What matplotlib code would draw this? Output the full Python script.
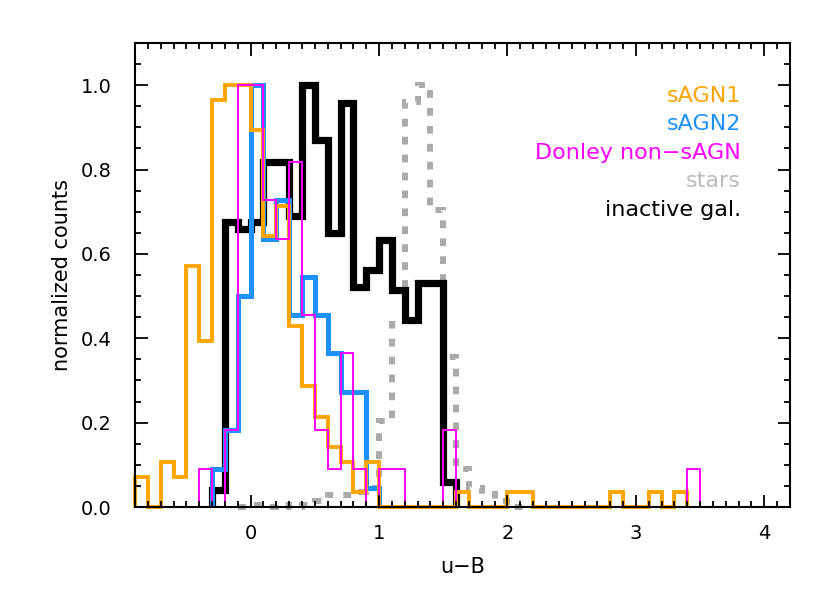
import numpy as np
import matplotlib
matplotlib.use("Agg")
import matplotlib.pyplot as plt
from matplotlib.ticker import MultipleLocator

# bin width of all the histograms (u-B)
bin_w = 0.1

# sAGN1: bins starting at -0.9
sagn1_start = -0.9
sagn1 = [0.071, 0.0, 0.107, 0.071, 0.571, 0.393, 0.964, 1.0, 1.0, 0.893,
         0.643, 0.714, 0.429, 0.286, 0.214, 0.143, 0.107, 0.036, 0.107,
         0.0, 0.0, 0.0, 0.0, 0.0, 0.0, 0.036, 0.0, 0.0, 0.0,
         0.036, 0.036, 0.0, 0.0, 0.0, 0.0, 0.0, 0.0, 0.036, 0.0, 0.0,
         0.036, 0.0, 0.036]

# sAGN2: bins starting at -0.3
sagn2_start = -0.3
sagn2 = [0.091, 0.182, 0.5, 1.0, 0.636, 0.727, 0.455, 0.545, 0.455, 0.364,
         0.273, 0.273, 0.045]

# Donley non-sAGN: bins starting at -0.5
donley_start = -0.5
donley = [0.0, 0.091, 0.0, 0.182, 1.0, 1.0, 0.727, 0.636, 0.818, 0.455,
          0.182, 0.091, 0.364, 0.091, 0.0, 0.091, 0.091, 0.0, 0.0, 0.0,
          0.182, 0.0, 0.0, 0.0, 0.0, 0.0, 0.0, 0.0, 0.0, 0.0,
          0.0, 0.0, 0.0, 0.0, 0.0, 0.0, 0.0, 0.0, 0.0, 0.091]

# stars: bins starting at -0.1
stars_start = -0.1
stars = [0.0, 0.005, 0.0, 0.005, 0.0, 0.005, 0.015, 0.028, 0.028, 0.035,
         0.045, 0.205, 0.435, 0.96, 1.0, 0.705, 0.355, 0.09, 0.045, 0.03,
         0.015, 0.0, 0.0]

# inactive galaxies: bins starting at -0.3
inactive_start = -0.3
inactive = [0.04, 0.676, 0.66, 0.676, 0.818, 0.818, 0.69, 1.0, 0.87, 0.649,
            0.957, 0.522, 0.561, 0.633, 0.514, 0.443, 0.53, 0.53, 0.06]

labels = ["sAGN1", "sAGN2", "Donley non\u2212sAGN", "stars", "inactive gal."]
colors = ["#FFA500", "#1E90FF", "#FF00FF", "#BBBBBB", "black"]


def edges_for(start, vals):
    return np.round(start + bin_w * np.arange(len(vals) + 1), 3)


plt.rcParams["font.family"] = ["DejaVu Sans"]

fig = plt.figure(figsize=(8.3, 5.93), dpi=100)
ax = fig.add_axes([0.1627, 0.145, 0.7891, 0.7825])

ax.stairs(stars, edges_for(stars_start, stars), baseline=0, color="#AAAAAA",
          lw=4.3, linestyle=(0, (1.3, 1.7)), clip_on=False)
ax.stairs(inactive, edges_for(inactive_start, inactive), baseline=0,
          color="black", lw=5.2, clip_on=False)
ax.stairs(sagn2, edges_for(sagn2_start, sagn2), baseline=0, color=colors[1],
          lw=3.6, clip_on=False)
ax.stairs(sagn1, edges_for(sagn1_start, sagn1), baseline=0, color=colors[0],
          lw=2.8, clip_on=False)
ax.stairs(donley, edges_for(donley_start, donley), baseline=0, color=colors[2],
          lw=1.4, clip_on=False)

ax.set_xlim(-0.9, 4.2)
ax.set_ylim(0, 1.1)

ax.xaxis.set_major_locator(MultipleLocator(1))
ax.xaxis.set_minor_locator(MultipleLocator(0.1))
ax.yaxis.set_major_locator(MultipleLocator(0.2))
ax.yaxis.set_minor_locator(MultipleLocator(0.05))
ax.yaxis.set_major_formatter(plt.FormatStrFormatter("%.1f"))

ax.tick_params(which="both", direction="in", top=True, right=True,
               labelsize=14, width=1.3)
ax.tick_params(axis="x", which="both", pad=12)
ax.tick_params(axis="y", which="both", pad=17)
ax.tick_params(which="major", length=9)
ax.tick_params(which="minor", length=4.5)
for s in ax.spines.values():
    s.set_linewidth(1.5)

ax.set_xlabel("u\u2212B", fontsize=15, labelpad=10)
ax.set_ylabel("normalized counts", fontsize=15, labelpad=6)

ys = [0.886, 0.825, 0.763, 0.703, 0.640]
for lab, col, y in zip(labels, colors, ys):
    ax.text(0.925, y, lab, color=col, fontsize=16, ha="right", va="center",
            transform=ax.transAxes)

fig.savefig("out.png", dpi=100)
